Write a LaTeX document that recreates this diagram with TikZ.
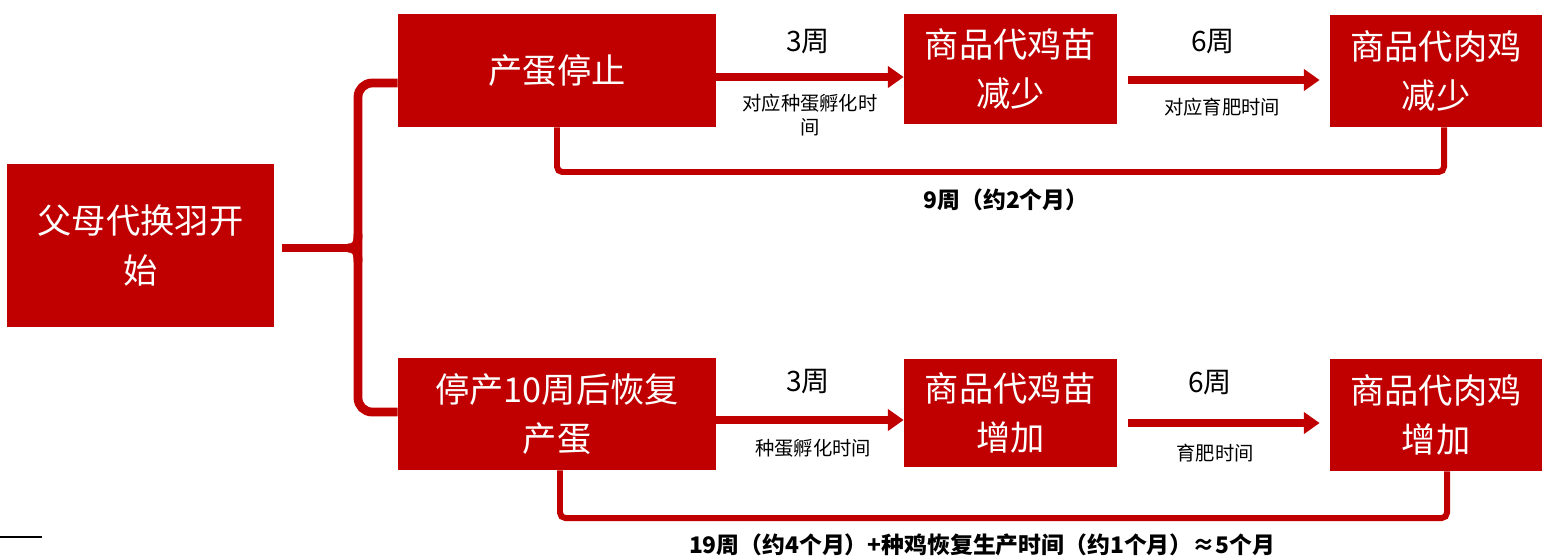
\documentclass[tikz,border=0pt]{standalone}
\usepackage{fontspec}
\setmainfont{Noto Sans CJK SC}
\usetikzlibrary{arrows.meta}
\definecolor{dred}{HTML}{C00000}
\begin{document}
\begin{tikzpicture}[x=0.02cm,y=-0.02cm,
  box/.style={fill=dred, text=white, inner sep=0pt, align=center, font=\fontsize{19.5}{28}\selectfont},
  arr/.style={draw=dred, line width=4.5pt, -{Triangle[length=9pt,width=12pt]}},
  conn/.style={draw=dred, line width=3.4pt, rounded corners=3pt},
  brace/.style={draw=dred, line width=5pt},
  big/.style={font=\fontsize{16}{18}\selectfont},
  small/.style={font=\fontsize{11}{13.6}\selectfont, align=center},
  total/.style={font=\bfseries\fontsize{13}{15}\selectfont}]
\useasboundingbox (0,0) rectangle (1542,556);

\node[box, minimum width=5.34cm, minimum height=3.26cm] (A) at (140.5,245.5) {父母代换羽开\\始};
\node[box, minimum width=6.36cm, minimum height=2.26cm] (B) at (557,70.5) {产蛋停止};
\node[box, minimum width=4.26cm, minimum height=2.2cm] (C) at (1010.5,69) {商品代鸡苗\\减少};
\node[box, minimum width=4.24cm, minimum height=2.24cm] (D) at (1436,71) {商品代肉鸡\\减少};
\node[box, minimum width=6.36cm, minimum height=2.24cm] (E) at (557,414) {停产10周后恢复\\产蛋};
\node[box, minimum width=4.26cm, minimum height=2.16cm] (F) at (1010.5,413) {商品代鸡苗\\增加};
\node[box, minimum width=4.24cm, minimum height=2.24cm] (G) at (1436,415) {商品代肉鸡\\增加};

% arrows
\draw[arr] (B.east |- 0,77) -- (C.west |- 0,77);
\draw[arr, shorten <=6pt, shorten >=5.7pt] (C.east |- 0,80) -- (D.west |- 0,80);
\draw[arr] (E.east |- 0,420) -- (F.west |- 0,420);
\draw[arr, shorten <=6pt, shorten >=5.7pt] (F.east |- 0,423) -- (G.west |- 0,423);

% labels
\node[big] (l1) at (808,42) {3周};
\node[small] (s1) at (810,115) {对应种蛋孵化时\\间};
\node[big] (l2) at (1213,42) {6周};
\node[small] (s2) at (1222,107) {对应育肥时间};
\node[big] (l3) at (808,382) {3周};
\node[small] (s3) at (813,448) {种蛋孵化时间};
\node[big] (l4) at (1210,383) {6周};
\node[small] (s4) at (1215,453) {育肥时间};

% span connectors
\coordinate (d1) at ([xshift=0.16cm]D.south);
\draw[conn] (B.south) -- (B.south |- 0,172) -- (d1 |- 0,172) -- (d1);
\node[total] (t1) at (1006,200) {9周（约2个月）};
\coordinate (e1) at ([xshift=0.06cm]E.south);
\coordinate (g1) at ([xshift=0.22cm]G.south);
\draw[conn] (e1) -- (e1 |- 0,518) -- (g1 |- 0,518) -- (g1);
\node[total] (t2) at (982,545) {19周（约4个月）+种鸡恢复生产时间（约1个月）≈5个月};

% brace
\draw[brace, rounded corners=8pt] (B.west |- 0,83) -- (358,83) -- (358,412) -- (E.west |- 0,412);
\coordinate (a1) at ([xshift=0.16cm]A.east);
\draw[brace] (a1 |- 0,248) -- (350,248);
\draw[brace] (358,234) .. controls (358,244) and (356,248) .. (348,248);
\draw[brace] (348,248) .. controls (356,248) and (358,252) .. (358,262);

% stray rule
\draw[line width=1.1pt] (0,537) -- (42,537);
\end{tikzpicture}
\end{document}
